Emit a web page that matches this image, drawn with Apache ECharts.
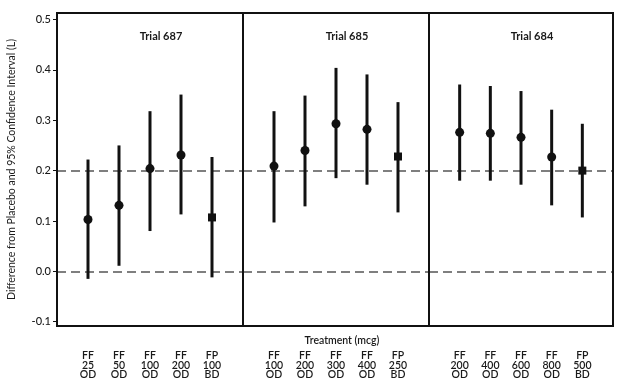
<!DOCTYPE html>
<html>
<head>
<meta charset="utf-8">
<script src="https://cdn.jsdelivr.net/npm/echarts@6/dist/echarts.min.js"></script>
<style>html,body{margin:0;padding:0;background:#fff;}#c{width:627px;height:384px;}</style>
</head>
<body>
<div id="c"></div>
<script>
// ---- data ----
const trialNames = ['Trial 687', 'Trial 685', 'Trial 684'];
const treat687 = ['FF\n25\nOD', 'FF\n50\nOD', 'FF\n100\nOD', 'FF\n200\nOD', 'FP\n100\nBD'];
const mean687  = [0.103, 0.131, 0.204, 0.231, 0.107];
const lower687 = [-0.015, 0.011, 0.080, 0.113, -0.012];
const upper687 = [0.222, 0.250, 0.318, 0.351, 0.227];

const treat685 = ['FF\n100\nOD', 'FF\n200\nOD', 'FF\n300\nOD', 'FF\n400\nOD', 'FP\n250\nBD'];
const mean685  = [0.209, 0.240, 0.293, 0.282, 0.228];
const lower685 = [0.097, 0.129, 0.185, 0.172, 0.117];
const upper685 = [0.318, 0.349, 0.404, 0.391, 0.336];

const treat684 = ['FF\n200\nOD', 'FF\n400\nOD', 'FF\n600\nOD', 'FF\n800\nOD', 'FP\n500\nBD'];
const mean684  = [0.276, 0.274, 0.266, 0.227, 0.200];
const lower684 = [0.180, 0.180, 0.172, 0.131, 0.107];
const upper684 = [0.371, 0.368, 0.358, 0.321, 0.293];

const yTicks = [-0.1, 0.0, 0.1, 0.2, 0.3, 0.4, 0.5];
const refLines = [0.0, 0.2];
const yTitle = 'Difference from Placebo and 95% Confidence Interval (L)';
const xTitle = 'Treatment (mcg)';

// ---- build ----
const treats = [treat687, treat685, treat684];
const means = [mean687, mean685, mean684];
const lowers = [lower687, lower685, lower684];
const uppers = [upper687, upper685, upper684];

const FONT = 'Lato, "Open Sans", sans-serif';
const TXT = '#1a1a1a';
const gridLefts = [57, 243, 429];
const gridWidths = [186, 186, 184];
const Y_MIN = -0.1086, Y_MAX = 0.513;

const grids = [], xAxes = [], yAxes = [], series = [], titles = [];
for (let i = 0; i < 3; i++) {
  grids.push({left: gridLefts[i], width: gridWidths[i], top: 13, height: 313,
    show: true, borderColor: '#111', borderWidth: 2, backgroundColor: 'transparent', z: 5});
  const labels = treats[i];
  xAxes.push({type: 'value', gridIndex: i, min: 0, max: 6, interval: 1,
    axisLine: {show: false}, axisTick: {show: false}, splitLine: {show: false},
    axisLabel: {margin: 25, fontFamily: FONT, fontSize: 10.5, lineHeight: 9.5, color: TXT, fontWeight: 600,
      formatter: v => (v >= 1 && v <= 5) ? labels[v - 1] : ''}
  });
  yAxes.push({type: 'value', gridIndex: i, min: Y_MIN, max: Y_MAX,
    splitLine: {show: false}, axisLine: {show: false},
    axisTick: {show: i === 0, customValues: yTicks, length: 4, inside: false, lineStyle: {color: '#111', width: 1}},
    axisLabel: {show: i === 0, customValues: yTicks, formatter: v => v.toFixed(1), fontFamily: FONT, fontSize: 11, fontWeight: 500, color: TXT, margin: 6},
    name: i === 0 ? yTitle : '', nameLocation: 'middle', nameRotate: 90, nameGap: 40,
    nameTextStyle: {fontFamily: FONT, fontSize: 10.5, color: TXT}
  });
  // reference dashed lines
  series.push({type: 'line', xAxisIndex: i, yAxisIndex: i, data: [], silent: true, z: 1,
    markLine: {symbol: 'none', silent: true, label: {show: false}, z: 1,
      lineStyle: {color: '#7f7f7f', type: [9, 5], width: 2},
      data: refLines.map(v => ({yAxis: v}))}
  });
  // error bars
  const barData = means[i].map((m, k) => [k + 1, lowers[i][k], uppers[i][k]]);
  series.push({type: 'custom', xAxisIndex: i, yAxisIndex: i, z: 3, data: barData,
    renderItem: (params, api) => {
      const p1 = api.coord([api.value(0), api.value(1)]);
      const p2 = api.coord([api.value(0), api.value(2)]);
      return {type: 'line', shape: {x1: p1[0], y1: p1[1], x2: p2[0], y2: p2[1]},
        style: {stroke: '#111', lineWidth: 3}};
    }
  });
  // point estimates
  const ptData = means[i].map((m, k) => ({value: [k + 1, m],
    symbol: labels[k].startsWith('FP') ? 'rect' : 'circle',
    symbolSize: labels[k].startsWith('FP') ? 8 : 9}));
  series.push({type: 'scatter', xAxisIndex: i, yAxisIndex: i, z: 4, data: ptData,
    itemStyle: {color: '#111', opacity: 1}});
  titles.push({text: trialNames[i], left: gridLefts[i] + gridWidths[i] / 2 + 6, top: 26, textAlign: 'center',
    textStyle: {fontFamily: FONT, fontSize: 11, fontWeight: 'bold', color: TXT}});
}
titles.push({text: xTitle, left: 337, top: 330, textAlign: 'center',
  textStyle: {fontFamily: FONT, fontSize: 10.5, fontWeight: 600, color: TXT}});

const chart = echarts.init(document.getElementById('c'), null, {renderer: 'canvas'});
chart.setOption({
  animation: false,
  backgroundColor: '#fff',
  title: titles,
  grid: grids,
  xAxis: xAxes,
  yAxis: yAxes,
  series: series
});
</script>
</body>
</html>
